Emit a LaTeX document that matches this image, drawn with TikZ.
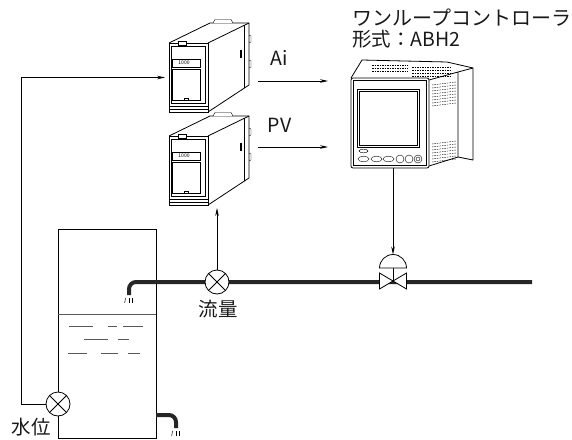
\documentclass[tikz,border=0pt]{standalone}
\usepackage{fontspec}
\setmainfont{Noto Sans CJK JP}
\usetikzlibrary{arrows.meta}

\tikzset{
  sig/.style={line width=0.8pt},
  sigarrow/.style={sig, -{Stealth[length=8pt,width=3.6pt]}},
  pipe/.style={line width=4pt, black!85, rounded corners=7pt},
  sensor/.style={circle, draw, line width=0.8pt, fill=white, minimum size=24pt, inner sep=0pt,
    path picture={\draw[line width=0.8pt] (path picture bounding box.north west) -- (path picture bounding box.south east)
      (path picture bounding box.north east) -- (path picture bounding box.south west);}},
  txt/.style={font=\fontsize{19.5}{22}\selectfont, text=black!90, inner sep=0pt},
  wave/.style={line width=0.8pt, black!65},
  drip/.style={line width=0.5pt},
  vent/.style={line width=0.4pt, dash pattern=on 1.5pt off 1pt},
}

\begin{document}
\begin{tikzpicture}[x=1pt,y=-1pt]
    \useasboundingbox (0,0) rectangle (572,439);

    % tank and water
    \draw[sig] (58,229) rectangle (156,438);
    \draw[wave] (58,314) -- (156,314);
    \foreach \y/\a/\b in {326/69/93, 326/108/117, 326/123/143, 339/84/108, 339/118/129, 353/68/87, 353/101/118, 353/128/140}
        \draw[wave] (\a,\y) -- (\b,\y);

    % pipes
    \coordinate (pipeR) at (532,282);
    \coordinate (inlet) at (129,295);
    \coordinate (outA) at (156,415);
    \coordinate (outB) at (176,428);
    \draw[pipe] (pipeR) -| (inlet);
    \draw[pipe] (outA) -| (outB);
    \foreach \p in {inlet, outB} {
        \draw[drip] (\p) ++(-3.5,3) -- ++(-0.8,5);
        \draw[drip] (\p) ++(0,3) -- ++(0,5);
        \draw[drip] (\p) ++(3,3) -- ++(0,5);
    }

    % sensors
    \node[sensor] (flow) at (217,282) {};
    \node[sensor] (lvl) at (58,404) {};

    % control valve
    \coordinate (cv) at (393,281);
    \draw[sig, fill=white] (cv) ++(-13.5,-8) -- ++(27,16) -- ++(0,-16) -- ++(-27,16) -- cycle;
    \draw[sig] (cv) -- ++(0,-13);
    \draw[sig, fill=white] (cv) ++(-13.5,-13) arc[start angle=180, end angle=0, radius=13.5pt] -- cycle;

    % signal converters
    \foreach \n/\dy in {cvA/0, cvB/93} {
    \begin{scope}[shift={(0,\dy)}]
        \draw[sig, fill=white, line join=round] (169,43) -- (210,23) -- (249,23) -- (249,85) -- (208,112);
        \draw[sig] (208,43) -- (249,23);
        \draw[thin] (244,25) -- (244,88);
        \draw[thin, fill=white] (213,23) -- (215,19.5) -- (231,19.5) -- (233,23);
        \draw[line width=1.2pt] (241,50) -- (241,58);
        \draw[thin] (249,35) -- (251,36) -- (251,42) -- (249,43) (249,60) -- (251,61) -- (251,67) -- (249,68);
        \node[draw, line width=0.8pt, fill=white, minimum width=39pt, minimum height=69pt, inner sep=0pt, outer sep=0pt] (\n) at (188.5,77.5) {};
        \draw[thin] (171.5,46) rectangle (205.5,103);
        \draw[thin] (169,106) -- (208,106) (169,109) -- (208,109);
        \draw[thin, fill=white] (178,41) rectangle (186,45);
        \draw[thin] (172.5,59) rectangle (200,67);
        \node[font=\fontsize{5}{5}\selectfont, inner sep=0pt] at (184,63) {1000};
        \draw[thin] (172.5,69) rectangle (200,100);
        \draw[thin] (184,100) -- (184,98.5) -- (188,98.5) -- (188,100);
    \end{scope}
    }

    % controller
    \draw[sig, fill=white, line join=round] (351,78) -- (362,60) -- (447,62) -- (473,68) -- (473,160) -- (458,157) -- (429,166);
    \draw[sig] (429,80) -- (458,72) -- (458,157) (458,72) -- (473,68);
    \foreach \y in {85,88,...,106} \draw[vent] (432,\y) -- (456,\y-3);
    \foreach \y in {144,147,...,162} \draw[vent] (432,\y) -- (456,\y-3);
    \foreach \y in {65,68,71} \draw[vent] (372,\y) -- (408,\y);
    \foreach \y in {67,70,73,76} \draw[vent] (412,\y) -- (452,\y);
    \node[draw, line width=0.8pt, fill=white, rounded corners=2pt, minimum width=78pt, minimum height=90pt, inner sep=0pt, outer sep=0pt] (ctrl) at (390,123) {};
    \draw[thin] ([shift={(2.5,2.5)}]ctrl.north west) rectangle ([shift={(-2.5,-2.5)}]ctrl.south east);
    \draw[sig] (357,89) rectangle (419,147);
    \draw[thin] (359,91) rectangle (417,145);
    \draw[thin] (363.5,151) ellipse[x radius=4.5pt, y radius=1.8pt];
    \foreach \x in {363.5,376.5,388.5} \draw[thin] (\x,159) ellipse[x radius=5.5pt, y radius=2.8pt];
    \foreach \x in {400,409} \draw[thin] (\x,159) circle[radius=4pt];
    \draw[thin] (418,159) circle[radius=4pt] (418,159) circle[radius=2pt];

    % connectors
    \coordinate (lvlBend) at (21,77.5);
    \coordinate (flowTip) at (217,208);
    \coordinate (aiA) at (258,81);
    \coordinate (aiB) at (328,81);
    \coordinate (pvA) at (258,147);
    \coordinate (pvB) at (328,147);
    \coordinate (cvTop) at (393,254.5);
    \draw[sigarrow, shorten >=4pt] (lvl.west) -| (lvlBend) -- (cvA.west);
    \draw[sigarrow] (flow.north) -- (flowTip);
    \draw[sigarrow] (aiA) -- (aiB);
    \draw[sigarrow] (pvA) -- (pvB);
    \draw[sigarrow] (ctrl.south -| cv) -- (cvTop);

    % labels
    \node[txt, anchor=west, font=\fontsize{20}{22}\selectfont] (title) at (352,17.5) {ワンループコントローラ};
    \node[txt, anchor=west] (model) at (352,39) {形式：ABH2};
    \node[txt, anchor=base] (ai) at (279,65) {Ai};
    \node[txt, anchor=base] (pv) at (279.5,132) {PV};
    \node[txt] (flowlbl) at (218,309) {流量};
    \node[txt] (lvllbl) at (31,427) {水位};
\end{tikzpicture}
\end{document}
